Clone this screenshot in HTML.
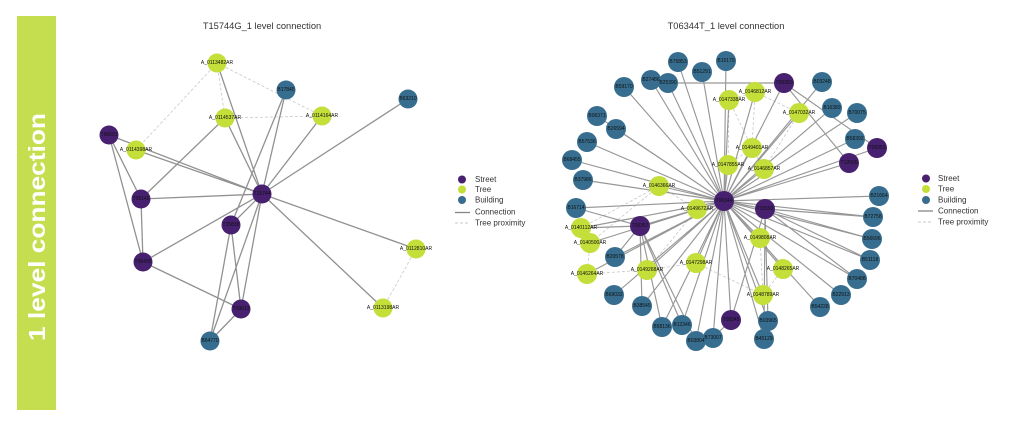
<!DOCTYPE html>
<html><head><meta charset="utf-8"><style>
html,body{margin:0;padding:0;background:#fff;}
body{width:1024px;height:421px;overflow:hidden;}
svg{display:block;}
text{font-family:"Liberation Sans",Arial,sans-serif;}
.lbl{font-size:5px;fill:#111;text-anchor:middle;dominant-baseline:central;}
.leg{font-size:8px;fill:#333;dominant-baseline:central;}
.ttl{font-size:9.3px;fill:#333;text-anchor:middle;}
</style></head><body>
<svg width="1024" height="421" viewBox="0 0 1024 421" xmlns="http://www.w3.org/2000/svg">
<rect width="1024" height="421" fill="#fff"/>
<!-- green side bar -->
<rect x="17" y="16" width="39" height="394" fill="#c5de4f"/>
<text transform="translate(45,227) rotate(-90)" text-anchor="middle" font-size="23" font-weight="bold" fill="#fff" textLength="228" lengthAdjust="spacingAndGlyphs">1 level connection</text>

<!-- titles -->
<text class="ttl" x="262" y="29">T15744G_1 level connection</text>
<text class="ttl" x="726" y="29">T06344T_1 level connection</text>

<!-- LEFT GRAPH -->
<path d="M217 63 L136 150 M217 63 L225 118 M217 63 L322 116 M225 118 L322 116 M416 249 L383 308" stroke="#c8c8c8" stroke-width="0.8" stroke-dasharray="3,2" fill="none"/>
<path d="M217 63 L262 194 M286 90 L262 194 M286 90 L231 225 M322 116 L262 194 M408 99 L262 194 M225 118 L262 194 M225 118 L141 199 M109 135 L262 194 M136 150 L262 194 M109 135 L143 262 M109 135 L141 199 M141 199 L262 194 M141 199 L143 262 M143 262 L262 194 M143 262 L241 309 M231 225 L262 194 M231 225 L241 309 M231 225 L210 341 M262 194 L241 309 M262 194 L210 341 M241 309 L210 341 M262 194 L416 249 M262 194 L383 308" stroke="#858585" stroke-width="1.3" fill="none" opacity="0.9"/>
<g>
<circle cx="262" cy="194" r="9.5" fill="#47206f"/>
<circle cx="109" cy="135" r="9.5" fill="#47206f"/>
<circle cx="141" cy="199" r="9.5" fill="#47206f"/>
<circle cx="231" cy="225" r="9.5" fill="#47206f"/>
<circle cx="143" cy="262" r="9.5" fill="#47206f"/>
<circle cx="241" cy="309" r="9.5" fill="#47206f"/>
<circle cx="286" cy="90" r="9.5" fill="#376e8f"/>
<circle cx="408" cy="99" r="9.5" fill="#376e8f"/>
<circle cx="210" cy="341" r="9.5" fill="#376e8f"/>
<circle cx="217" cy="63" r="9.5" fill="#c4de3a"/>
<circle cx="225" cy="118" r="9.5" fill="#c4de3a"/>
<circle cx="322" cy="116" r="9.5" fill="#c4de3a"/>
<circle cx="136" cy="150" r="9.5" fill="#c4de3a"/>
<circle cx="416" cy="249" r="9.5" fill="#c4de3a"/>
<circle cx="383" cy="308" r="9.5" fill="#c4de3a"/>
</g>
<g class="lbl">
<text class="lbl" x="262" y="194">T15744</text>
<text class="lbl" x="109" y="135">T56601</text>
<text class="lbl" x="141" y="199">T05140</text>
<text class="lbl" x="231" y="225">T15838</text>
<text class="lbl" x="143" y="262">T06495</text>
<text class="lbl" x="241" y="309">T09613</text>
<text class="lbl" x="286" y="90">B17845</text>
<text class="lbl" x="408" y="99">B63210</text>
<text class="lbl" x="210" y="341">B64770</text>
<text class="lbl" x="217" y="63">A_0113482AR</text>
<text class="lbl" x="225" y="118">A_0114537AR</text>
<text class="lbl" x="322" y="116">A_0114164AR</text>
<text class="lbl" x="136" y="150">A_0114398AR</text>
<text class="lbl" x="416" y="249">A_0112810AR</text>
<text class="lbl" x="383" y="308">A_0113198AR</text>
</g>

<!-- LEFT LEGEND -->
<circle cx="462" cy="179.5" r="4" fill="#47206f"/>
<circle cx="462" cy="189.5" r="4" fill="#c4de3a"/>
<circle cx="462" cy="200" r="4" fill="#376e8f"/>
<line x1="455" y1="212.5" x2="470" y2="212.5" stroke="#858585" stroke-width="1.3"/>
<line x1="455" y1="223" x2="470" y2="223" stroke="#c8c8c8" stroke-width="0.9" stroke-dasharray="3,2"/>
<text class="leg" x="475" y="179.5">Street</text>
<text class="leg" x="475" y="189.5">Tree</text>
<text class="leg" x="475" y="200">Building</text>
<text class="leg" x="475" y="212">Connection</text>
<text class="leg" x="475" y="223">Tree proximity</text>

<!-- RIGHT LEGEND -->
<circle cx="926" cy="178.5" r="4" fill="#47206f"/>
<circle cx="926" cy="189" r="4" fill="#c4de3a"/>
<circle cx="926" cy="200" r="4" fill="#376e8f"/>
<line x1="918" y1="211" x2="933" y2="211" stroke="#858585" stroke-width="1.3"/>
<line x1="918" y1="222" x2="933" y2="222" stroke="#c8c8c8" stroke-width="0.9" stroke-dasharray="3,2"/>
<text class="leg" x="938" y="178.5">Street</text>
<text class="leg" x="938" y="189">Tree</text>
<text class="leg" x="938" y="200">Building</text>
<text class="leg" x="938" y="211">Connection</text>
<text class="leg" x="938" y="222">Tree proximity</text>

<!-- RIGHT GRAPH -->
<path d="M729 100 L755 92 M755 92 L799 113 M729 100 L752 148 M755 92 L752 148 M752 148 L764 169 M728 165 L752 148 M799 113 L764 169 M659 186 L697 209 M581 228 L590 243 M590 243 L587 274 M587 274 L647 270 M647 270 L696 263 M659 186 L581 228 M760 238 L783 269 M783 269 L763 295 M760 238 L763 295 M696 263 L763 295 M659 186 L590 243 M697 209 L647 270 M729 100 L728 165" stroke="#c8c8c8" stroke-width="0.8" stroke-dasharray="3,2" fill="none"/>
<path d="M678 62 L724 201 M702 72 L724 201 M726 61 L724 201 M651 80 L724 201 M668 83 L724 201 M624 87 L724 201 M597 116 L724 201 M616 129 L724 201 M587 142 L724 201 M572 160 L724 201 M583 180 L724 201 M576 208 L724 201 M615 257 L724 201 M614 295 L724 201 M642 306 L724 201 M662 327 L724 201 M682 325 L724 201 M696 341 L724 201 M713 338 L724 201 M764 339 L724 201 M768 321 L724 201 M820 307 L724 201 M841 295 L724 201 M857 279 L724 201 M870 260 L724 201 M872 239 L724 201 M873 217 L724 201 M879 196 L724 201 M855 139 L724 201 M857 113 L724 201 M832 108 L724 201 M822 82 L724 201
M784 83 L724 201 M877 148 L724 201 M849 163 L724 201 M765 209 L724 201 M640 226 L724 201 M731 320 L724 201
M755 92 L724 201 M729 100 L724 201 M799 113 L724 201 M752 148 L724 201 M728 165 L724 201 M764 169 L724 201 M659 186 L724 201 M697 209 L724 201 M581 228 L724 201 M590 243 L724 201 M647 270 L724 201 M696 263 L724 201 M587 274 L724 201 M760 238 L724 201 M783 269 L724 201 M763 295 L724 201
M668 83 L784 83 M784 83 L849 163 M784 83 L877 148 M765 209 L873 217 M765 209 L872 239 M765 209 L870 260 M765 209 L857 279 M765 209 L731 320 M640 226 L576 208 M640 226 L581 228 M640 226 L615 257 M640 226 L642 306 M640 226 L662 327 M640 226 L682 325 M640 226 L696 341 M731 320 L713 338 M765 209 L768 321 M765 209 L764 339" stroke="#858585" stroke-width="1.15" fill="none" opacity="0.85"/>
<g>
<circle cx="724" cy="201" r="10" fill="#47206f"/>
<circle cx="784" cy="83" r="10" fill="#47206f"/>
<circle cx="877" cy="148" r="10" fill="#47206f"/>
<circle cx="849" cy="163" r="10" fill="#47206f"/>
<circle cx="765" cy="209" r="10" fill="#47206f"/>
<circle cx="640" cy="226" r="10" fill="#47206f"/>
<circle cx="731" cy="320" r="10" fill="#47206f"/>
</g>
<g fill="#376e8f">
<circle cx="678" cy="62" r="10"/><circle cx="702" cy="72" r="10"/><circle cx="726" cy="61" r="10"/>
<circle cx="651" cy="80" r="10"/><circle cx="668" cy="83" r="10"/><circle cx="624" cy="87" r="10"/>
<circle cx="597" cy="116" r="10"/><circle cx="616" cy="129" r="10"/><circle cx="587" cy="142" r="10"/>
<circle cx="572" cy="160" r="10"/><circle cx="583" cy="180" r="10"/><circle cx="576" cy="208" r="10"/>
<circle cx="615" cy="257" r="10"/><circle cx="614" cy="295" r="10"/><circle cx="642" cy="306" r="10"/>
<circle cx="662" cy="327" r="10"/><circle cx="682" cy="325" r="10"/><circle cx="696" cy="341" r="10"/>
<circle cx="713" cy="338" r="10"/><circle cx="764" cy="339" r="10"/><circle cx="768" cy="321" r="10"/>
<circle cx="820" cy="307" r="10"/><circle cx="841" cy="295" r="10"/><circle cx="857" cy="279" r="10"/>
<circle cx="870" cy="260" r="10"/><circle cx="872" cy="239" r="10"/><circle cx="873" cy="217" r="10"/>
<circle cx="879" cy="196" r="10"/><circle cx="855" cy="139" r="10"/><circle cx="857" cy="113" r="10"/>
<circle cx="832" cy="108" r="10"/><circle cx="822" cy="82" r="10"/>
</g>
<g fill="#c4de3a">
<circle cx="755" cy="92" r="10"/><circle cx="729" cy="100" r="10"/><circle cx="799" cy="113" r="10"/>
<circle cx="752" cy="148" r="10"/><circle cx="728" cy="165" r="10"/><circle cx="764" cy="169" r="10"/>
<circle cx="659" cy="186" r="10"/><circle cx="697" cy="209" r="10"/><circle cx="581" cy="228" r="10"/>
<circle cx="590" cy="243" r="10"/><circle cx="647" cy="270" r="10"/><circle cx="696" cy="263" r="10"/>
<circle cx="587" cy="274" r="10"/><circle cx="760" cy="238" r="10"/><circle cx="783" cy="269" r="10"/>
<circle cx="763" cy="295" r="10"/>
</g>
<g>
<text class="lbl" x="724" y="201">T06344</text>
<text class="lbl" x="784" y="83">T06350</text>
<text class="lbl" x="877" y="148">T06353</text>
<text class="lbl" x="849" y="163">T12606</text>
<text class="lbl" x="765" y="209">T15592</text>
<text class="lbl" x="640" y="226">T06357</text>
<text class="lbl" x="731" y="320">T08345</text>
<text class="lbl" x="678" y="62">B75853</text>
<text class="lbl" x="702" y="72">B51291</text>
<text class="lbl" x="726" y="61">B15179</text>
<text class="lbl" x="651" y="80">B27486</text>
<text class="lbl" x="668" y="83">B25390</text>
<text class="lbl" x="624" y="87">B59170</text>
<text class="lbl" x="597" y="116">B06371</text>
<text class="lbl" x="616" y="129">B26594</text>
<text class="lbl" x="587" y="142">B57536</text>
<text class="lbl" x="572" y="160">B68455</text>
<text class="lbl" x="583" y="180">B37986</text>
<text class="lbl" x="576" y="208">B16714</text>
<text class="lbl" x="615" y="257">B20578</text>
<text class="lbl" x="614" y="295">B69032</text>
<text class="lbl" x="642" y="306">B38545</text>
<text class="lbl" x="662" y="327">B58136</text>
<text class="lbl" x="682" y="325">B12346</text>
<text class="lbl" x="696" y="341">B03804</text>
<text class="lbl" x="713" y="338">B73007</text>
<text class="lbl" x="764" y="339">B45129</text>
<text class="lbl" x="768" y="321">B03965</text>
<text class="lbl" x="820" y="307">B54228</text>
<text class="lbl" x="841" y="295">B22913</text>
<text class="lbl" x="857" y="279">B70488</text>
<text class="lbl" x="870" y="260">B51118</text>
<text class="lbl" x="872" y="239">B56696</text>
<text class="lbl" x="873" y="217">B72758</text>
<text class="lbl" x="879" y="196">B21664</text>
<text class="lbl" x="855" y="139">B58392</text>
<text class="lbl" x="857" y="113">B70075</text>
<text class="lbl" x="832" y="108">B16389</text>
<text class="lbl" x="822" y="82">B03248</text>
<text class="lbl" x="755" y="92">A_0146812AR</text>
<text class="lbl" x="729" y="100">A_0147338AR</text>
<text class="lbl" x="799" y="113">A_0147032AR</text>
<text class="lbl" x="752" y="148">A_0149401AR</text>
<text class="lbl" x="728" y="165">A_0147855AR</text>
<text class="lbl" x="764" y="169">A_0146857AR</text>
<text class="lbl" x="659" y="186">A_0146366AR</text>
<text class="lbl" x="697" y="209">A_0149672AR</text>
<text class="lbl" x="581" y="228">A_0140112AR</text>
<text class="lbl" x="590" y="243">A_0140500AR</text>
<text class="lbl" x="647" y="270">A_0149268AR</text>
<text class="lbl" x="696" y="263">A_0147298AR</text>
<text class="lbl" x="587" y="274">A_0146264AR</text>
<text class="lbl" x="760" y="238">A_0149808AR</text>
<text class="lbl" x="783" y="269">A_0148265AR</text>
<text class="lbl" x="763" y="295">A_0148789AR</text>
</g>
</svg>
</body></html>
